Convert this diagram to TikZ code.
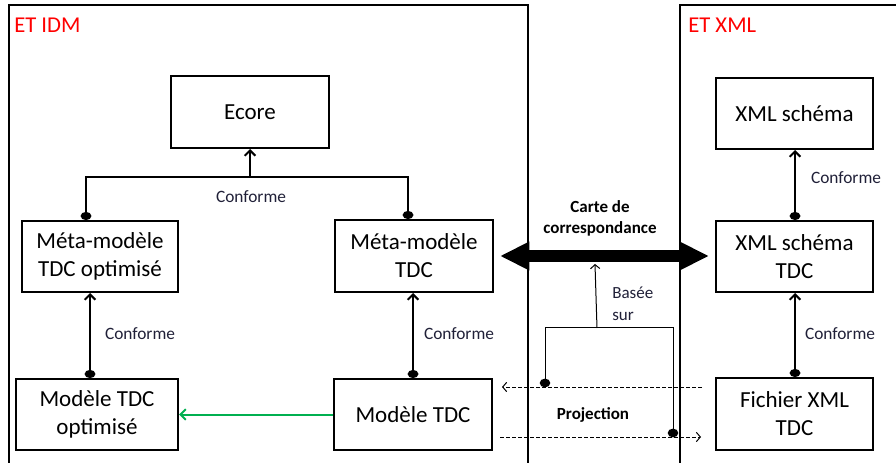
\documentclass[tikz,border=0pt]{standalone}
\usepackage{fontspec}
\setmainfont{Carlito}
\usetikzlibrary{arrows.meta}
\definecolor{lblc}{RGB}{32,32,56}
\definecolor{grn}{RGB}{0,176,80}
\begin{document}
\begin{tikzpicture}[x=0.75pt,y=-0.75pt,
  box/.style n args={2}{draw, line width=1.5pt, fill=white, minimum width=#1*0.75pt, minimum height=#2*0.75pt, inner sep=0pt, align=center, font=\fontsize{17.25}{21}\selectfont},
  conf/.style={line width=1.5pt, {Circle[length=6pt,width=8pt]}-{Straight Barb[length=4pt,width=8pt]}},
  lbl/.style={font=\fontsize{13}{16}\selectfont, text=lblc, inner sep=0pt},
  blbl/.style={font=\fontsize{12.75}{15.75}\selectfont\bfseries, inner sep=0pt, align=center},
  ttl/.style={font=\fontsize{17}{20}\selectfont, text=red, inner sep=0pt, anchor=west},
  thinln/.style={line width=0.75pt},
  dsh/.style={line width=0.75pt, dash pattern=on 3pt off 1.5pt, -{Straight Barb[length=3pt,width=7pt]}}
]
\useasboundingbox (0,0) rectangle (896,463);
\clip (0,0) rectangle (896,463);
\fill[white] (0,0) rectangle (896,463);
% containers
\draw[line width=1.5pt] (9,5) rectangle (528,475);
\draw[line width=1.5pt] (680,5) rectangle (905,475);
\node[ttl] (tidm) at (14,25) {ET IDM};
\node[ttl] (txml) at (688,25) {ET XML};
% boxes
\node[box={158}{72}] (ecore) at (250,112) {Ecore};
\node[box={156}{71}] (mmopt) at (100,256.5) {Méta-modèle\\TDC optimisé};
\node[box={158}{72}] (mm) at (414,256) {Méta-modèle\\TDC};
\node[box={162}{71}] (mopt) at (97,414.5) {Modèle TDC\\optimisé};
\node[box={158}{71}] (m) at (413,414.5) {Modèle TDC};
\node[box={157}{71}] (xs) at (794.5,113.5) {XML schéma};
\node[box={157}{71}] (xst) at (794.5,256.5) {XML schéma\\TDC};
\node[box={157}{72}] (fx) at (794.5,414) {Fichier XML\\TDC};
% helper coordinates
\coordinate (tl) at (86,177);
\coordinate (tr) at (408,177);
\coordinate (tm) at (250,177);
\coordinate (cL) at (90,0);
\coordinate (cR) at (413,0);
\coordinate (cX) at (795,0);
% T connector to Ecore
\draw[line width=1.5pt, {Circle[length=6pt,width=8pt]}-{Circle[length=6pt,width=8pt]}] (mmopt.north -| tl) -- (tl) -- (tr) -- (mm.north -| tr);
\draw[line width=1.5pt, -{Straight Barb[length=4pt,width=8pt]}] (tm) -- (ecore.south);
\node[lbl] (c0) at (251,197) {Conforme};
% vertical conforme arrows
\draw[conf] (mopt.north -| cL) -- (mmopt.south -| cL);
\node[lbl] (c1) at (140,334) {Conforme};
\draw[conf] (m.north -| cR) -- (mm.south -| cR);
\node[lbl] (c2) at (459,334) {Conforme};
\draw[conf] (xst.north -| cX) -- (xs.south -| cX);
\node[lbl] (c3) at (846,178) {Conforme};
\draw[conf] (fx.north -| cX) -- (xst.south -| cX);
\node[lbl] (c4) at (840,334) {Conforme};
% green arrow
\draw[line width=1.5pt, grn, -{Straight Barb[length=4pt,width=8pt]}] (m.west) -- (m.west -| mopt.east);
% thick double arrow
\draw[line width=9pt, shorten <=4.5pt, shorten >=4.5pt, {Triangle[length=22pt,width=20pt]}-{Triangle[length=22pt,width=20pt]}] (mm.east) -- (mm.east -| xst.west);
\node[blbl] (carte) at (600,218.5) {Carte de\\correspondance};
% based on
\coordinate (bj) at (597,328);
\coordinate (ct) at (595,264);
\draw[thinln, -{Straight Barb[length=3pt,width=7pt]}] (bj) -- (ct);
\node[lbl, anchor=west, align=left, font=\fontsize{12.75}{16.5}\selectfont] (basee) at (612,304) {Basée\\sur};
\coordinate (bl) at (545,328);
\coordinate (br) at (673,328);
\coordinate (dl) at (545,383);
\coordinate (dr) at (673,433);
\draw[thinln] (dl) -- (bl) -- (br) -- (dr);
% projection
\coordinate (pt1) at (702,387);
\coordinate (pt2) at (502,387);
\coordinate (pb1) at (500,437);
\coordinate (pb2) at (701,437);
\draw[dsh] (pt1) -- (pt2);
\draw[dsh] (pb1) -- (pb2);
\fill (dl) ellipse [x radius=4pt, y radius=3.3pt];
\fill (dr) ellipse [x radius=4pt, y radius=3.3pt];
\node[blbl] (proj) at (593,415) {Projection};
\end{tikzpicture}
\end{document}
